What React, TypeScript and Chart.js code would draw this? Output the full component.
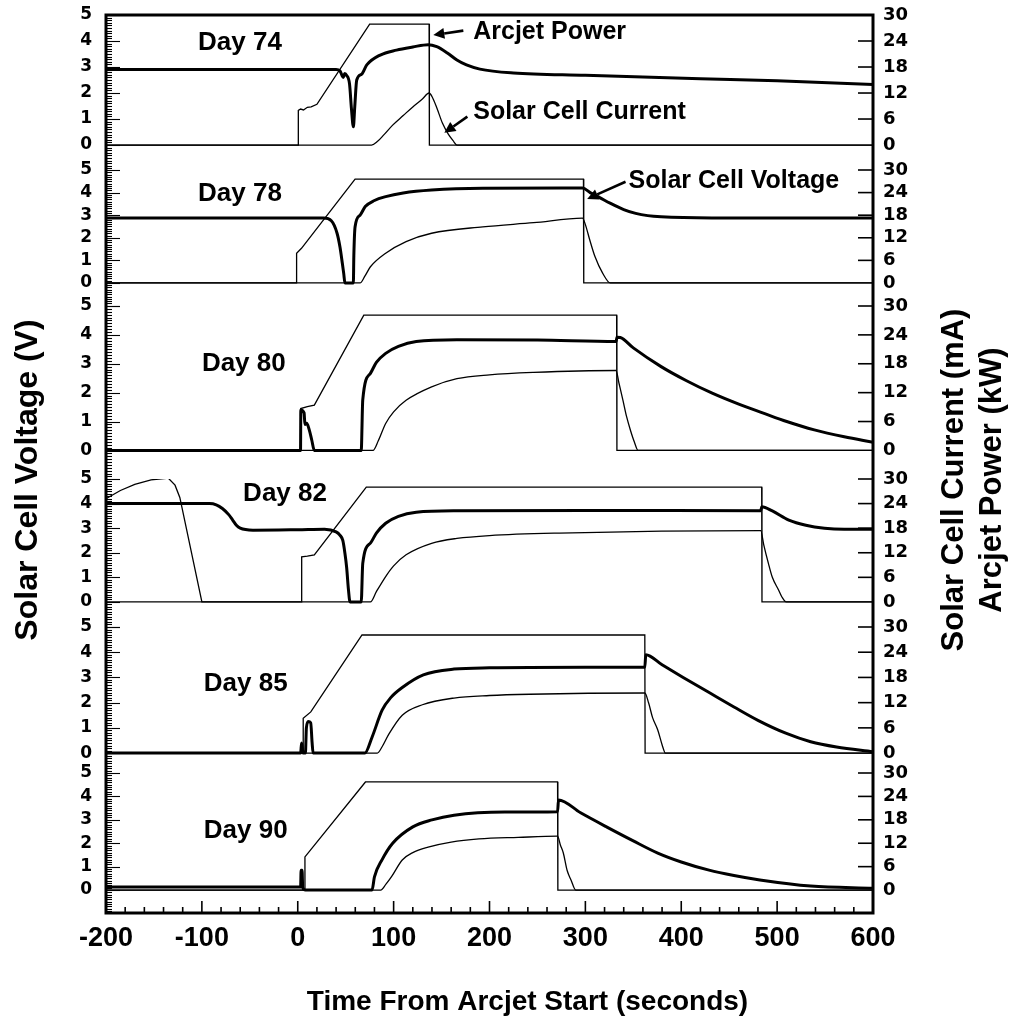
import React, { useEffect, useRef } from "react";
import { Chart, registerables } from "chart.js";

Chart.register(...registerables);

type Pt = [number, number];

// ---------- categories / labels ----------
const dayLabels = ["Day 74", "Day 78", "Day 80", "Day 82", "Day 85", "Day 90"];
const voltTicks = [0, 1, 2, 3, 4, 5];
const rightTicks = [0, 6, 12, 18, 24, 30];
const timeTicks = [-200, -100, 0, 100, 200, 300, 400, 500, 600];

// ---------- Day 74 ----------
const day74Voltage: Pt[] = [
  [-200, 2.9], [0, 2.9], [40, 2.9], [44, 2.85], [47.5, 2.6], [49, 2.75], [51, 2.68], [54, 2.35],
  [56, 1.4], [58, 0.7], [59.5, 1.5], [61.5, 2.5], [66.5, 2.72], [72, 3.08], [86, 3.46], [103, 3.65],
  [120, 3.77], [136, 3.86], [145, 3.78], [156, 3.54], [166, 3.27], [176, 3.08], [190, 2.92],
  [225, 2.77], [300, 2.68], [420, 2.55], [500, 2.47], [600, 2.33],
];
const day74Current: Pt[] = [
  [-200, 0], [77, 0], [83, 0.8], [90, 2.4], [99, 4.6], [110, 6.8], [120, 8.8], [130, 10.6],
  [137, 12.0], [140, 11.2], [145, 8.6], [151, 5.0], [157, 2.5], [162, 1.0], [166, 0], [600, 0],
];
const day74Power: Pt[] = [
  [-200, 0], [0.5, 0], [0.6, 8.0], [3, 8.3], [6, 8.1], [10, 8.7], [14, 8.8], [20, 9.4],
  [75, 27.9], [137, 27.9], [137.3, 0], [600, 0],
];

// ---------- Day 78 ----------
const day78Voltage: Pt[] = [
  [-200, 2.87], [0, 2.87], [27, 2.87], [35, 2.75], [41, 2.2], [44, 1.6], [46.5, 0.87], [48, 0.4],
  [49.2, 0], [58, 0], [58.5, 1.2], [59.8, 2.49], [65, 3.0], [70.4, 3.38], [80, 3.65], [91.7, 3.82],
  [110, 3.98], [139.6, 4.11], [193, 4.19], [297, 4.2], [305, 4.0], [315, 3.78], [325.8, 3.53],
  [340, 3.25], [352.5, 3.08], [365, 2.98], [379, 2.93], [432, 2.88], [600, 2.87],
];
const day78Current: Pt[] = [
  [-200, 0], [65, 0], [70, 1.8], [75.8, 4.3], [91.7, 7.9], [113, 11.0], [139.6, 13.2], [193, 14.9],
  [246, 16.0], [297, 17.2], [300, 15.5], [304.6, 11.4], [310, 7], [318, 2.6], [326, 0], [600, 0],
];
const day78Power: Pt[] = [
  [-200, 0], [-1.4, 0], [-1.2, 7.9], [3.9, 9.2], [59.8, 27.6], [298, 27.6], [298.3, 0], [600, 0],
];

// ---------- Day 80 ----------
const day80Voltage: Pt[] = [
  [-200, 0], [2.9, 0], [3.2, 1.4], [6.6, 1.3], [7.5, 0.9], [9.3, 0.94], [12, 0.71], [14.6, 0.36],
  [17.3, 0], [66.2, 0], [67.8, 1.75], [75.8, 2.67], [82, 3.05], [91.7, 3.36], [105, 3.6],
  [123.6, 3.77], [166, 3.83], [250, 3.82], [332, 3.77], [333, 3.92], [336.4, 3.91], [350, 3.55],
  [379, 2.9], [405, 2.42], [432.3, 1.98], [460, 1.6], [485.6, 1.29], [510, 1.0], [538.8, 0.71],
  [570, 0.47], [600, 0.28],
];
const day80Current: Pt[] = [
  [-200, 0], [78.5, 0], [84, 2], [91.7, 5.6], [100, 8], [113, 10.4], [139.6, 13.2], [166, 14.9],
  [200, 15.7], [246, 16.2], [332, 16.6], [335, 14], [339.2, 10.4], [343, 7], [347, 4.2], [351, 1.8],
  [355, 0], [600, 0],
];
const day80Power: Pt[] = [
  [-200, 0], [2.9, 0], [3.1, 8.7], [10, 9.1], [17.3, 9.4], [68.9, 28.1], [332.6, 28.1],
  [332.9, 0], [600, 0],
];

// ---------- Day 82 ----------
const day82Voltage: Pt[] = [
  [-200, 4.0], [-92, 4.0], [-85, 3.95], [-78.6, 3.8], [-72, 3.55], [-67.9, 3.33], [-64, 3.12],
  [-60, 3.0], [-46.7, 2.92], [0, 2.94], [27.9, 2.96], [40, 2.85], [43.9, 2.72], [47, 2.5],
  [49.2, 1.98], [51, 1.4], [52.9, 0.49], [54.5, 0], [66.2, 0], [67.8, 1.57], [75.8, 2.39],
  [82, 2.8], [91.7, 3.2], [105, 3.48], [123.6, 3.65], [166, 3.71], [300, 3.72], [482.9, 3.71],
  [484, 3.87], [495, 3.7], [512.2, 3.33], [530, 3.12], [549.4, 3.0], [570, 2.96], [600, 2.96],
];
const day82Current: Pt[] = [
  [-200, 0], [75.8, 0], [82, 2.5], [91.7, 6.2], [100, 8.8], [113, 11.5], [139.6, 14.3],
  [166, 15.5], [200, 16.2], [272.7, 16.8], [482.9, 17.4], [486, 14], [490.9, 9.4], [495, 6],
  [501.5, 2.9], [505, 1.2], [509.5, 0], [600, 0],
];
const day82Power: Pt[] = [
  [-200, 25.2], [-185, 27.2], [-170, 28.7], [-153, 29.8], [-135, 30.2], [-128, 28.5],
  [-123, 25.5], [-100, 0], [3.9, 0], [4.1, 11.0], [10, 11.2], [17.3, 11.5], [71.5, 28.0],
  [483.9, 28.0], [484.2, 0], [600, 0],
];

// ---------- Day 85 ----------
const day85Voltage: Pt[] = [
  [-200, 0], [3, 0], [4, 0.4], [5.5, 0], [8, 0], [9, 1.0], [11, 1.25], [13.5, 1.2], [15, 0.4],
  [16, 0], [70, 0], [77.5, 0.63], [88, 1.7], [97, 2.2], [109, 2.6], [131, 3.1], [163, 3.33],
  [200, 3.38], [300, 3.4], [362, 3.4], [363, 3.9], [380, 3.5], [402, 3.0], [430, 2.38],
  [455, 1.83], [480, 1.3], [509, 0.79], [535, 0.45], [562, 0.24], [600, 0.05],
];
const day85Current: Pt[] = [
  [-200, 0], [83, 0], [88, 1.5], [95, 4.5], [109, 9.0], [130, 11.5], [163, 13.1], [200, 13.7],
  [242, 14.0], [362, 14.3], [366, 11.9], [370, 8.5], [375.5, 5.5], [380, 2], [383.5, 0], [600, 0],
];
const day85Power: Pt[] = [
  [-200, 0], [5.5, 0], [5.7, 8.3], [13.6, 9.8], [67, 28.1], [362, 28.1], [362.3, 0], [600, 0],
];

// ---------- Day 90 ----------
const day90Voltage: Pt[] = [
  [-200, 0.13], [3, 0.13], [3.5, 0.85], [4.5, 0.85], [5.2, 0.1], [8, 0], [77.5, 0], [80, 0.56],
  [88, 1.3], [99, 2.0], [120, 2.7], [140, 3.0], [163, 3.2], [216, 3.33], [271, 3.35], [272, 3.85],
  [295, 3.3], [322, 2.7], [350, 2.1], [375.5, 1.58], [400, 1.2], [429, 0.85], [455, 0.62],
  [482, 0.43], [535, 0.17], [600, 0.08],
];
const day90Current: Pt[] = [
  [-200, 0], [86.5, 0], [92, 1.5], [98, 3.5], [109, 7.7], [120, 9.6], [136, 11.0], [160, 12.3],
  [189, 13.1], [230, 13.5], [271, 13.8], [274, 11.5], [277, 9.5], [281, 5], [285, 2.6], [290, 0],
  [600, 0],
];
const day90Power: Pt[] = [
  [-200, 0], [7.3, 0], [7.5, 8.5], [70.6, 27.7], [271, 27.7], [271.3, 0], [600, 0],
];

const voltageSeries = [day74Voltage, day78Voltage, day80Voltage, day82Voltage, day85Voltage, day90Voltage];
const currentSeries = [day74Current, day78Current, day80Current, day82Current, day85Current, day90Current];
const powerSeries = [day74Power, day78Power, day80Power, day82Power, day85Power, day90Power];

// text anchor positions (time s, volts) in each panel
const dayLabelPos: Pt[] = [[-104, 3.92], [-104, 3.94], [-100, 3.0], [-57, 4.39], [-98, 2.74], [-98, 2.52]];
const callouts = [
  { panel: 0, text: "Arcjet Power", at: [183, 4.33], from: [172.7, 4.4], to: [141.4, 4.23] },
  { panel: 0, text: "Solar Cell Current", at: [183, 1.27], from: [176.9, 1.09], to: [152.9, 0.47] },
  { panel: 1, text: "Solar Cell Voltage", at: [345, 4.51], from: [341.9, 4.48], to: [301.9, 3.72] },
];

// layout of stacked panels
const panelWeights = [155, 136, 173, 148, 146, 140];
const panelMins = [-0.96, -1.02, -0.99, -1.02, -0.79, -0.98];

const FAMILY = '"Liberation Sans", Arial, Helvetica, sans-serif';

const toXY = (arr: Pt[]) => arr.map(([x, y]) => ({ x, y }));

function arrow(ctx: CanvasRenderingContext2D, x1: number, y1: number, x2: number, y2: number) {
  const ang = Math.atan2(y2 - y1, x2 - x1);
  const head = 11;
  const hw = 5.5;
  const bx = x2 - head * Math.cos(ang);
  const by = y2 - head * Math.sin(ang);
  ctx.lineWidth = 2.6;
  ctx.beginPath();
  ctx.moveTo(x1, y1);
  ctx.lineTo(bx, by);
  ctx.stroke();
  ctx.beginPath();
  ctx.moveTo(x2, y2);
  ctx.lineTo(bx + hw * Math.sin(ang), by - hw * Math.cos(ang));
  ctx.lineTo(bx - hw * Math.sin(ang), by + hw * Math.cos(ang));
  ctx.closePath();
  ctx.fill();
}

const decorPlugin = {
  id: "decor",
  afterDraw(chart: any) {
    const ctx: CanvasRenderingContext2D = chart.ctx;
    const area = chart.chartArea;
    const xs = chart.scales.x;
    ctx.save();
    ctx.strokeStyle = "#000";
    ctx.fillStyle = "#000";

    // inward ticks on left (voltage) and right (current / power) axes
    for (let i = 0; i < dayLabels.length; i++) {
      const yl = chart.scales["yL" + i];
      const yr = chart.scales["yR" + i];
      ctx.lineWidth = 1.1;
      for (let k = Math.ceil(yl.min * 10); k <= 50; k++) {
        const y = Math.round(yl.getPixelForValue(k / 10)) + 0.5;
        const len = k % 10 === 0 ? 14 : 6;
        ctx.beginPath();
        ctx.moveTo(area.left, y);
        ctx.lineTo(area.left + len, y);
        ctx.stroke();
      }
      ctx.lineWidth = 1.6;
      for (const v of rightTicks) {
        if (v === 0) continue;
        const y = yr.getPixelForValue(v);
        ctx.beginPath();
        ctx.moveTo(area.right - 15, y);
        ctx.lineTo(area.right, y);
        ctx.stroke();
      }
    }
    // inward ticks on time axis
    ctx.lineWidth = 1.6;
    for (let v = -200; v <= 600; v += 20) {
      const x = xs.getPixelForValue(v);
      const len = v % 100 === 0 ? 12 : 6;
      ctx.beginPath();
      ctx.moveTo(x, area.bottom - len);
      ctx.lineTo(x, area.bottom);
      ctx.stroke();
    }
    // frame
    ctx.lineWidth = 3;
    ctx.strokeRect(area.left, area.top, area.right - area.left, area.bottom - area.top);

    // day labels
    ctx.font = `bold 26px ${FAMILY}`;
    ctx.textAlign = "left";
    ctx.textBaseline = "middle";
    dayLabels.forEach((lab, i) => {
      const yl = chart.scales["yL" + i];
      ctx.fillText(lab, xs.getPixelForValue(dayLabelPos[i][0]), yl.getPixelForValue(dayLabelPos[i][1]));
    });
    // callouts
    ctx.font = `bold 25px ${FAMILY}`;
    callouts.forEach((c) => {
      const yl = chart.scales["yL" + c.panel];
      ctx.fillText(c.text, xs.getPixelForValue(c.at[0]), yl.getPixelForValue(c.at[1]));
      arrow(
        ctx,
        xs.getPixelForValue(c.from[0]), yl.getPixelForValue(c.from[1]),
        xs.getPixelForValue(c.to[0]), yl.getPixelForValue(c.to[1])
      );
    });

    // axis titles
    const midY = (area.top + area.bottom) / 2 + 16;
    ctx.textAlign = "center";
    ctx.textBaseline = "middle";
    const vtext = (t: string, x: number, y: number) => {
      ctx.save();
      ctx.translate(x, y);
      ctx.rotate(-Math.PI / 2);
      ctx.fillText(t, 0, 0);
      ctx.restore();
    };
    ctx.font = `bold 32px ${FAMILY}`;
    vtext("Solar Cell Voltage (V)", area.left - 78, midY);
    ctx.font = `bold 31px ${FAMILY}`;
    vtext("Solar Cell Current (mA)", area.right + 81, midY);
    vtext("Arcjet Power (kW)", area.right + 119, midY);
    ctx.font = `bold 28px ${FAMILY}`;
    ctx.fillText("Time From Arcjet Start (seconds)", (area.left + area.right) / 2 + 38, area.bottom + 89);
    ctx.restore();
  },
};

export default function App() {
  const ref = useRef<HTMLCanvasElement>(null);
  useEffect(() => {
    const scales: any = {
      x: {
        type: "linear",
        position: "bottom",
        min: -200,
        max: 600,
        afterBuildTicks: (ax: any) => {
          ax.ticks = timeTicks.map((v) => ({ value: v }));
        },
        ticks: {
          color: "#000",
          font: { family: FAMILY, size: 27, weight: "bold" },
          padding: 9,
          maxRotation: 0,
          autoSkip: false,
        },
        grid: { display: false, drawTicks: false },
        border: { display: false },
        afterFit: (s: any) => {
          s.height = 110;
          s.paddingLeft = 0;
          s.paddingRight = 0;
        },
      },
    };
    const datasets: any[] = [];
    dayLabels.forEach((_, i) => {
      scales["yL" + i] = {
        type: "linear",
        position: "left",
        stack: "left",
        stackWeight: panelWeights[i],
        weight: 10 - i,
        min: panelMins[i],
        max: 5,
        afterBuildTicks: (ax: any) => {
          ax.ticks = voltTicks.map((v) => ({ value: v }));
        },
        ticks: {
          color: "#000",
          font: { family: '"DejaVu Sans", sans-serif', size: 17, weight: "bold" },
          padding: 14,
          autoSkip: false,
        },
        grid: { display: false, drawTicks: false },
        border: { display: false },
        afterFit: (s: any) => {
          s.width = 106;
          s.paddingTop = 0;
          s.paddingBottom = 0;
        },
      };
      scales["yR" + i] = {
        type: "linear",
        position: "right",
        stack: "right",
        stackWeight: panelWeights[i],
        weight: i,
        min: panelMins[i] * 6,
        max: 30,
        afterBuildTicks: (ax: any) => {
          ax.ticks = rightTicks.map((v) => ({ value: v }));
        },
        ticks: {
          color: "#000",
          font: { family: '"DejaVu Sans", sans-serif', size: 18, weight: "bold" },
          padding: 10,
          autoSkip: false,
        },
        grid: { display: false, drawTicks: false },
        border: { display: false },
        afterFit: (s: any) => {
          s.width = 137;
          s.paddingTop = 0;
          s.paddingBottom = 0;
        },
      };
      datasets.push({
        label: dayLabels[i] + " Solar Cell Voltage",
        data: toXY(voltageSeries[i]),
        xAxisID: "x",
        yAxisID: "yL" + i,
        borderColor: "#000",
        borderWidth: 3,
        pointRadius: 0,
        cubicInterpolationMode: "monotone",
        fill: false,
      });
      datasets.push({
        label: dayLabels[i] + " Solar Cell Current",
        data: toXY(currentSeries[i]),
        xAxisID: "x",
        yAxisID: "yR" + i,
        borderColor: "#000",
        borderWidth: 1.3,
        pointRadius: 0,
        cubicInterpolationMode: "monotone",
        fill: false,
      });
      datasets.push({
        label: dayLabels[i] + " Arcjet Power",
        data: toXY(powerSeries[i]),
        xAxisID: "x",
        yAxisID: "yR" + i,
        borderColor: "#000",
        borderWidth: 1.3,
        pointRadius: 0,
        tension: 0,
        fill: false,
      });
    });

    const chart = new Chart(ref.current as HTMLCanvasElement, {
      type: "line",
      data: { datasets },
      options: {
        animation: false,
        responsive: true,
        maintainAspectRatio: false,
        layout: { padding: { top: 15, left: 0, right: 0, bottom: 0 } },
        plugins: { legend: { display: false }, tooltip: { enabled: false }, title: { display: false } },
        scales,
      } as any,
      plugins: [decorPlugin],
    });
    return () => chart.destroy();
  }, []);

  return (
    <div style={{ position: "fixed", left: 0, top: 0, width: 1010, height: 1023, background: "#fff" }}>
      <canvas ref={ref} />
    </div>
  );
}
